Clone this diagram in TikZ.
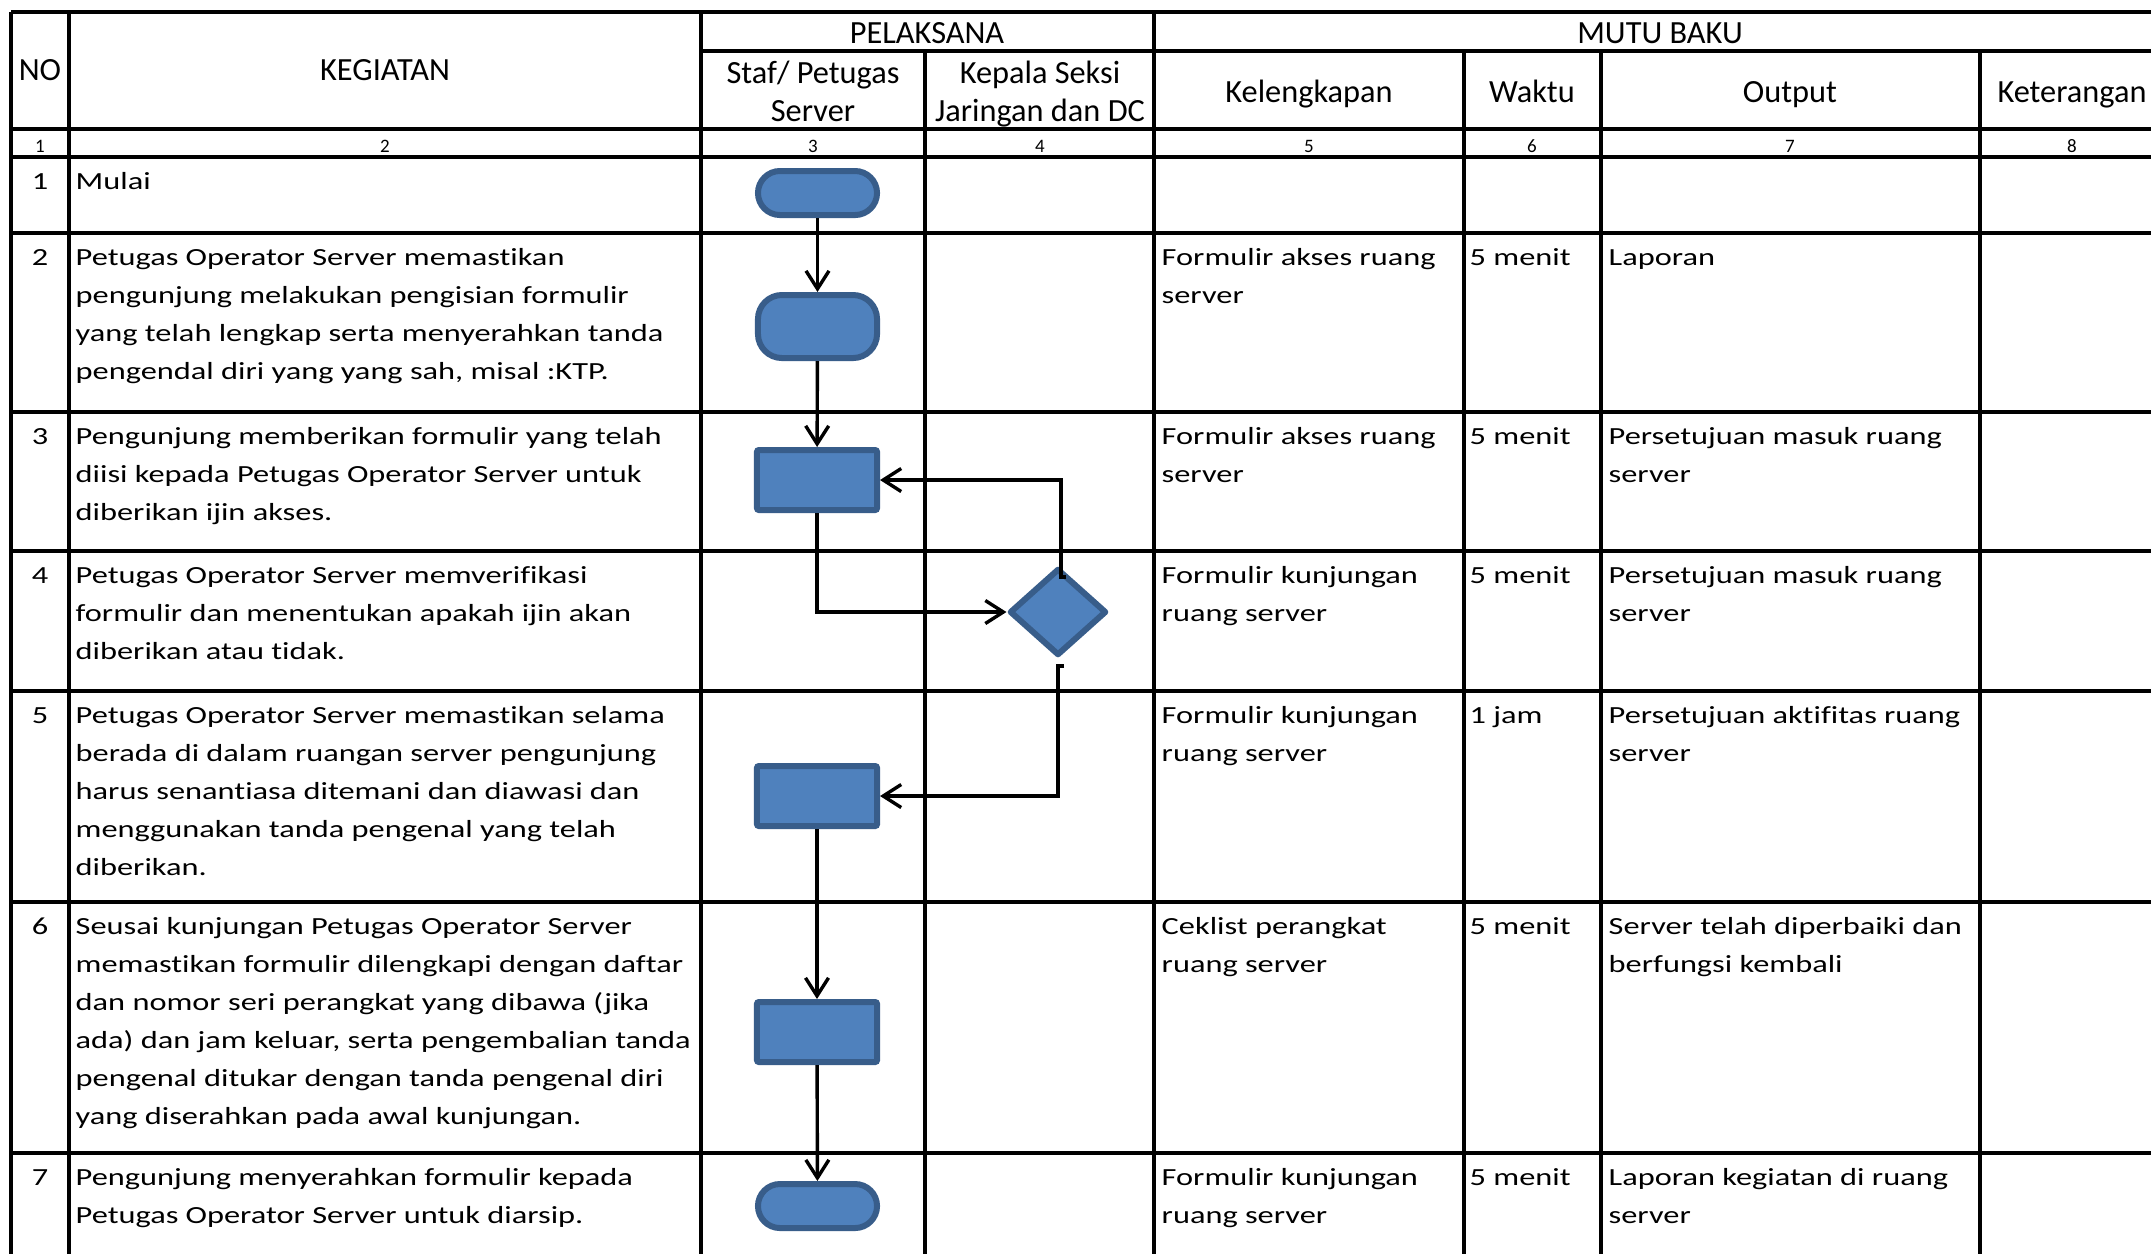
\documentclass[tikz,border=0pt]{standalone}
\usepackage{fontspec}
\setmainfont{Carlito}[Ligatures=NoCommon]
\newfontfamily\bodyf{Carlito}[FakeStretch=1.315,Ligatures=NoCommon]
\usetikzlibrary{arrows.meta,shapes.geometric}
\definecolor{shfill}{HTML}{4F81BD}
\definecolor{shline}{HTML}{385D8A}
\newcommand\cellt[1]{\begin{tabular}[t]{@{}l@{}}#1\end{tabular}}
\newcommand\cellc[1]{\begin{tabular}[t]{@{}c@{}}#1\end{tabular}}
\begin{document}
\begin{tikzpicture}[x=0.01cm,y=-0.01cm,
  tline/.style={line width=0.033cm},
  hdr/.style={font=\fontsize{9.2}{10.81}\selectfont, inner sep=0, anchor=base},
  bod/.style={font=\bodyf\fontsize{7.0}{10.81}\selectfont, inner sep=0, anchor=base west},
  bno/.style={font=\bodyf\fontsize{7.0}{10.81}\selectfont, inner sep=0, anchor=base},
  num/.style={font=\fontsize{5.4}{6}\selectfont, inner sep=0, anchor=base},
  shp/.style={draw=shline, fill=shfill, line width=0.06cm, inner sep=0},
  term/.style={shp, rectangle, minimum width=1.19cm, minimum height=0.44cm, rounded corners=0.22cm},
  proc/.style={shp, rectangle, minimum width=1.20cm, minimum height=0.60cm, rounded corners=0.02cm},
  rproc/.style={shp, rectangle, minimum width=1.19cm, minimum height=0.63cm, rounded corners=0.24cm},
  dec/.style={shp, diamond, minimum width=0.97cm, minimum height=0.87cm, line join=round},
  conn/.style={line width=0.034cm, -{Straight Barb[length=0.18cm,width=0.23cm]}}
]
\useasboundingbox (0,0) rectangle (2151,1253);
\fill[white] (0,0) rectangle (2151,1253);
\clip (0,0) rectangle (2151,1253);

% horizontal lines
\foreach \yy in {12,129,157,233,412,551,691,902,1153}
  \draw[tline] (11,\yy) -- (2200,\yy);
\draw[tline] (701,51) -- (2200,51);
% vertical lines
\foreach \xx in {11,69,701,1154}
  \draw[tline] (\xx,12) -- (\xx,1300);
\foreach \xx in {1464,1601,1980}
  \draw[tline] (\xx,51) -- (\xx,1300);
\draw[line width=0.042cm] (925,51) -- (925,1300);
\draw[tline] (2165,12) -- (2165,1300);

% header
\node[hdr] (hno) at (40,80) {NO};
\node[hdr] (hkeg) at (385,80) {KEGIATAN};
\node[hdr] (hpel) at (927,43) {PELAKSANA};
\node[hdr] (hmut) at (1660,43) {MUTU BAKU};
\node[hdr] (hstaf) at (813,83) {\cellc{Staf/ Petugas\\Server}};
\node[hdr] (hkep) at (1040,83) {\cellc{Kepala Seksi\\Jaringan dan DC}};
\node[hdr] (hkel) at (1309,102) {Kelengkapan};
\node[hdr] (hwak) at (1532,102) {Waktu};
\node[hdr] (hout) at (1790,102) {Output};
\node[hdr] (hket) at (2072,102) {Keterangan};

% number row
\node[num] (n1) at (40,152) {1};
\node[num] (n2) at (385,152) {2};
\node[num] (n3) at (813,152) {3};
\node[num] (n4) at (1040,152) {4};
\node[num] (n5) at (1309,152) {5};
\node[num] (n6) at (1532,152) {6};
\node[num] (n7) at (1790,152) {7};
\node[num] (n8) at (2072,152) {8};

% row numbers
\node[bno] (r1) at (40,189) {1};
\node[bno] (r2) at (40,265) {2};
\node[bno] (r3) at (40,444) {3};
\node[bno] (r4) at (40,583) {4};
\node[bno] (r5) at (40,723) {5};
\node[bno] (r6) at (40,934) {6};
\node[bno] (r7) at (40,1185) {7};

% kegiatan
\node[bod] (k1) at (75,189) {Mulai};
\node[bod] (k2) at (75,265) {\cellt{Petugas Operator Server memastikan\\pengunjung melakukan pengisian formulir\\yang telah lengkap serta menyerahkan tanda\\pengendal diri yang yang sah, misal :KTP.}};
\node[bod] (k3) at (75,444) {\cellt{Pengunjung memberikan formulir yang telah\\diisi kepada Petugas Operator Server untuk\\diberikan ijin akses.}};
\node[bod] (k4) at (75,583) {\cellt{Petugas Operator Server memverifikasi\\formulir dan menentukan apakah ijin akan\\diberikan atau tidak.}};
\node[bod] (k5) at (75,723) {\cellt{Petugas Operator Server memastikan selama\\berada di dalam ruangan server pengunjung\\harus senantiasa ditemani dan diawasi dan\\menggunakan tanda pengenal yang telah\\diberikan.}};
\node[bod] (k6) at (75,934) {\cellt{Seusai kunjungan Petugas Operator Server\\memastikan formulir dilengkapi dengan daftar\\dan nomor seri perangkat yang dibawa (jika\\ada) dan jam keluar, serta pengembalian tanda\\pengenal ditukar dengan tanda pengenal diri\\yang diserahkan pada awal kunjungan.}};
\node[bod] (k7) at (75,1185) {\cellt{Pengunjung menyerahkan formulir kepada\\Petugas Operator Server untuk diarsip.}};

% kelengkapan
\node[bod] (l2) at (1161,265) {\cellt{Formulir akses ruang\\server}};
\node[bod] (l3) at (1161,444) {\cellt{Formulir akses ruang\\server}};
\node[bod] (l4) at (1161,583) {\cellt{Formulir kunjungan\\ruang server}};
\node[bod] (l5) at (1161,723) {\cellt{Formulir kunjungan\\ruang server}};
\node[bod] (l6) at (1161,934) {\cellt{Ceklist perangkat\\ruang server}};
\node[bod] (l7) at (1161,1185) {\cellt{Formulir kunjungan\\ruang server}};

% waktu
\node[bod] (w2) at (1469,265) {5 menit};
\node[bod] (w3) at (1469,444) {5 menit};
\node[bod] (w4) at (1469,583) {5 menit};
\node[bod] (w5) at (1469,723) {1 jam};
\node[bod] (w6) at (1469,934) {5 menit};
\node[bod] (w7) at (1469,1185) {5 menit};

% output
\node[bod] (o2) at (1608,265) {Laporan};
\node[bod] (o3) at (1608,444) {\cellt{Persetujuan masuk ruang\\server}};
\node[bod] (o4) at (1608,583) {\cellt{Persetujuan masuk ruang\\server}};
\node[bod] (o5) at (1608,723) {\cellt{Persetujuan aktifitas ruang\\server}};
\node[bod] (o6) at (1608,934) {\cellt{Server telah diperbaiki dan\\berfungsi kembali}};
\node[bod] (o7) at (1608,1185) {\cellt{Laporan kegiatan di ruang\\server}};

% flow shapes
\node[term] (s1) at (817.5,193) {};
\node[rproc] (s2) at (817.5,326.5) {};
\node[proc] (s3) at (817,480) {};
\node[dec] (d) at (1058,612) {};
\node[proc] (s4) at (817,796) {};
\node[proc] (s5) at (817,1032) {};
\node[term] (s6) at (817.5,1206) {};
\coordinate (dt) at (1066,577);
\coordinate (db) at (1064,666);

% connectors
\draw[conn] (s1) -- (s2);
\draw[conn] (s2) -- (s3);
\draw[conn] (s3.south) |- (d.west);
\draw[conn] (dt) -- ++(-5,0) |- (s3.east);
\draw[conn] (db) -- ++(-6,0) |- (s4.east);
\draw[conn] (s4) -- (s5);
\draw[conn] (s5) -- (s6);
\end{tikzpicture}
\end{document}
